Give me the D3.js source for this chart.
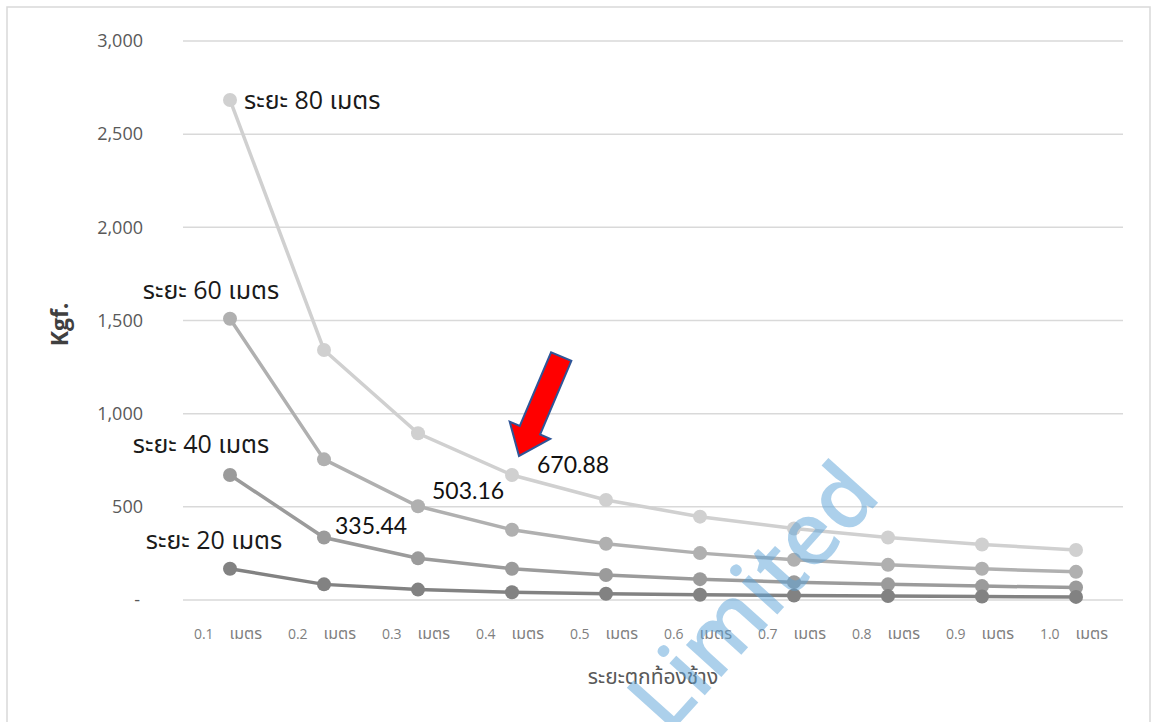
<!DOCTYPE html>
<html>
<head>
<meta charset="utf-8">
<script src="https://cdn.jsdelivr.net/npm/d3@7"></script>
<style>
  html, body { margin: 0; padding: 0; background: #fff; }
  text { font-family: "Open Sans", "Noto Sans Thai", "Leelawadee UI", Tahoma, sans-serif; }
</style>
</head>
<body>
<div id="app"></div>
<script>
// categories (drop distance)
const categories = ["0.1", "0.2", "0.3", "0.4", "0.5", "0.6", "0.7", "0.8", "0.9", "1.0"];
const unit = "เมตร";

// series names
const seriesNames = ["ระยะ 80 เมตร", "ระยะ 60 เมตร", "ระยะ 40 เมตร", "ระยะ 20 เมตร"];

// series values (Kgf.)
const span80 = [2683.52, 1341.76, 894.51, 670.88, 536.70, 447.25, 383.36, 335.44, 298.17, 268.35];
const span60 = [1509.48, 754.74, 503.16, 377.37, 301.90, 251.58, 215.64, 188.69, 167.72, 150.95];
const span40 = [670.88, 335.44, 223.63, 167.72, 134.18, 111.81, 95.84, 83.86, 74.54, 67.09];
const span20 = [167.72, 83.86, 55.91, 41.93, 33.54, 27.95, 23.96, 20.97, 18.64, 16.77];

// y tick values
const yTicks = [0, 500, 1000, 1500, 2000, 2500, 3000];

function plotChart() {
    const svgWidth = 1152;
    const svgHeight = 722;
    const margin = { top: 41, bottom: 122, left: 183, right: 29 };
    const width = svgWidth - margin.left - margin.right;
    const height = svgHeight - margin.top - margin.bottom;

    const svg = d3.select("#app").append("svg")
        .attr("width", svgWidth)
        .attr("height", svgHeight);

    // outer chart border
    svg.append("rect")
        .attr("x", 7).attr("y", 7)
        .attr("width", 1143).attr("height", 730)
        .attr("fill", "#fff")
        .attr("stroke", "#d9d9d9")
        .attr("stroke-width", 1.5);

    const x = d3.scaleBand()
        .domain(categories)
        .range([0, width]);

    const y = d3.scaleLinear()
        .domain([0, 3000])
        .range([height, 0]);

    const chart = svg.append("g")
        .attr("transform", "translate(" + margin.left + "," + margin.top + ")");

    // gridlines
    chart.selectAll(".grid")
        .data(yTicks)
        .enter()
            .append("line")
            .attr("x1", 0)
            .attr("x2", width)
            .attr("y1", d => y(d))
            .attr("y2", d => y(d))
            .attr("stroke", "#d9d9d9")
            .attr("stroke-width", 1.5);

    // y axis labels
    const yAxis = d3.axisLeft(y)
        .tickValues(yTicks)
        .tickSize(0)
        .tickPadding(40)
        .tickFormat(d => d === 0 ? "-" : d3.format(",")(d));
    const yg = chart.append("g").call(yAxis);
    yg.select(".domain").remove();
    yg.selectAll("text")
        .attr("fill", "#595959")
        .style("font-size", "18px")
        .style("font-family", "'Open Sans', sans-serif");
    yg.selectAll(".tick").filter(d => d === 0).select("text").attr("dx", -3);

    // x axis labels
    const xg = chart.append("g")
        .attr("transform", "translate(0," + height + ")");
    xg.selectAll(".xlab")
        .data(categories)
        .enter()
            .append("text")
            .attr("x", d => x(d) + x.bandwidth() / 2 - 2)
            .attr("y", 39)
            .attr("text-anchor", "middle")
            .attr("fill", "#7f7f7f")
            .style("font-size", "14px")
            .each(function(d) {
                const t = d3.select(this);
                t.append("tspan").text(d);
                t.append("tspan").attr("dx", 16).style("font-size", "16px").text(unit);
            });

    // axis titles
    svg.append("text")
        .attr("x", margin.left + width / 2)
        .attr("y", 684)
        .attr("text-anchor", "middle")
        .attr("fill", "#595959")
        .style("font-size", "21px")
        .text("ระยะตกท้องช้าง");

    svg.append("text")
        .attr("transform", "translate(68," + (margin.top + height / 2 + 4) + ") rotate(-90)")
        .attr("text-anchor", "middle")
        .attr("fill", "#404040")
        .style("font-size", "23px")
        .style("font-weight", "bold")
        .text("Kgf.");

    // series
    const series = [
        { name: seriesNames[0], values: span80, color: "#d0d0d0" },
        { name: seriesNames[1], values: span60, color: "#b0b0b0" },
        { name: seriesNames[2], values: span40, color: "#9b9b9b" },
        { name: seriesNames[3], values: span20, color: "#828282" }
    ];

    const line = d3.line()
        .x((d, i) => x(categories[i]) + x.bandwidth() / 2)
        .y(d => y(d));

    series.forEach(function(s) {
        const g = chart.append("g");
        g.append("path")
            .datum(s.values)
            .attr("d", line)
            .attr("fill", "none")
            .attr("stroke", s.color)
            .attr("stroke-width", 3.5);
        g.selectAll("circle")
            .data(s.values)
            .enter()
                .append("circle")
                .attr("cx", (d, i) => x(categories[i]) + x.bandwidth() / 2)
                .attr("cy", d => y(d))
                .attr("r", 7)
                .attr("fill", s.color);
    });

    // series name labels, next to first point
    const nameLabels = [
        { s: 0, dx: 14, dy: 0, anchor: "start" },
        { s: 1, dx: -19, dy: -28, anchor: "middle" },
        { s: 2, dx: -29, dy: -31, anchor: "middle" },
        { s: 3, dx: -16, dy: -28, anchor: "middle" }
    ];
    chart.selectAll(".name-label")
        .data(nameLabels)
        .enter()
            .append("text")
            .attr("x", d => x(categories[0]) + x.bandwidth() / 2 + d.dx)
            .attr("y", d => y(series[d.s].values[0]) + d.dy)
            .attr("dy", "0.35em")
            .attr("text-anchor", d => d.anchor)
            .attr("fill", "#1a1a1a")
            .style("font-size", "25px")
            .text(d => series[d.s].name);

    // value labels
    const valueLabels = [
        { s: 2, i: 1, dx: 11, dy: -12 },
        { s: 1, i: 2, dx: 14, dy: -15 },
        { s: 0, i: 3, dx: 25, dy: -10 }
    ];
    chart.selectAll(".value-label")
        .data(valueLabels)
        .enter()
            .append("text")
            .attr("x", d => x(categories[d.i]) + x.bandwidth() / 2 + d.dx)
            .attr("y", d => y(series[d.s].values[d.i]) + d.dy)
            .attr("dy", "0.35em")
            .attr("fill", "#111")
            .style("font-size", "23px")
            .style("font-family", "Lato, 'Open Sans', sans-serif")
            .text(d => d3.format(".2f")(series[d.s].values[d.i]));

    // red block arrow pointing at the 0.4 point of the 80 m series
    const tipX = x(categories[3]) + x.bandwidth() / 2 + 7;
    const tipY = y(span80[3]) - 19;
    const arrowLen = 108, headLen = 28, shaftHalf = 11, headHalf = 22;
    const arrowPts = [
        [0, -shaftHalf], [arrowLen - headLen, -shaftHalf], [arrowLen - headLen, -headHalf],
        [arrowLen, 0], [arrowLen - headLen, headHalf], [arrowLen - headLen, shaftHalf], [0, shaftHalf]
    ];
    chart.append("path")
        .attr("d", d3.line()(arrowPts) + "Z")
        .attr("transform", "translate(" + tipX + "," + tipY + ") rotate(113) translate(" + (-arrowLen) + ",0)")
        .attr("fill", "#ff0000")
        .attr("stroke", "#2f5597")
        .attr("stroke-width", 2)
        .attr("stroke-linejoin", "miter");

    // watermark
    svg.append("text")
        .attr("transform", "translate(668,736) rotate(-48)")
        .attr("fill", "#5ba3d9")
        .attr("opacity", 0.5)
        .style("font-size", "88px")
        .style("font-weight", "600")
        .style("font-family", "'Open Sans', sans-serif")
        .text("Limited");
}

plotChart();
</script>
</body>
</html>
